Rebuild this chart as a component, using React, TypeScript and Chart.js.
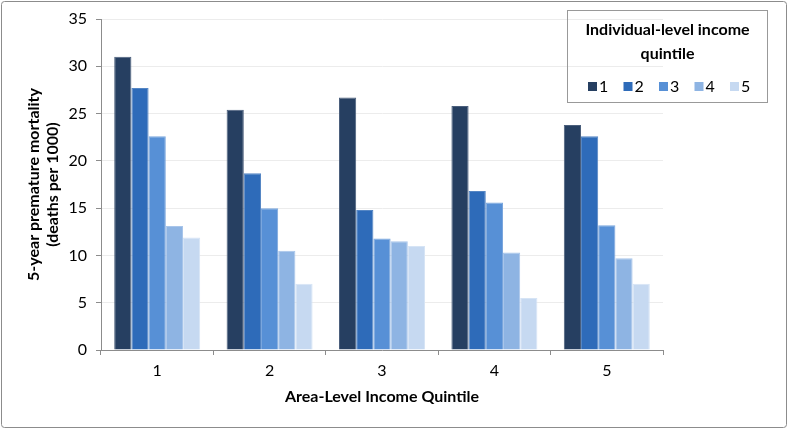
import React, { useEffect, useRef } from "react";
import { Chart, registerables } from "chart.js";

Chart.register(...registerables);

const categories = ["1", "2", "3", "4", "5"];
const seriesLabels = ["1", "2", "3", "4", "5"];
const q1 = [31.0, 25.4, 26.7, 25.8, 23.8];
const q2 = [27.7, 18.7, 14.8, 16.8, 22.6];
const q3 = [22.6, 15.0, 11.8, 15.6, 13.2];
const q4 = [13.1, 10.5, 11.5, 10.3, 9.7];
const q5 = [11.9, 7.0, 11.0, 5.5, 7.0];
const seriesValues = [q1, q2, q3, q4, q5];
const colors = ["#263f61", "#2e6bb9", "#5790d6", "#8eb4e3", "#c6d9f1"];
const borderColors = ["#4b5f7c", "#5586c4", "#7aa6dd", "#a8c5ea", "#d6e4f5"];
const yTicks = [0, 5, 10, 15, 20, 25, 30, 35];
const legendTitle = ["Individual-level income", "quintile"];
const yTitle = ["5-year premature mortality", "(deaths per 1000)"];
const xTitle = "Area-Level Income Quintile";

const FONT = "Lato, 'Open Sans', sans-serif";

const decorPlugin = {
  id: "decor",
  beforeDraw(chart: any) {
    const ctx = chart.ctx;
    ctx.save();
    ctx.fillStyle = "#ffffff";
    ctx.fillRect(0, 0, chart.width, chart.height);
    ctx.restore();
  },
  afterDraw(chart: any) {
    const ctx = chart.ctx;
    const area = chart.chartArea;
    ctx.save();
    // outer border
    ctx.strokeStyle = "#8c8c8c";
    ctx.lineWidth = 1;
    ctx.beginPath();
    (ctx as any).roundRect(1.5, 1.5, chart.width - 3, chart.height - 3, 3);
    ctx.stroke();

    // y title
    ctx.fillStyle = "#000000";
    ctx.font = `bold 16px ${FONT}`;
    ctx.textAlign = "center";
    ctx.textBaseline = "middle";
    const cy = (area.top + area.bottom) / 2;
    ctx.save();
    ctx.translate(34, cy);
    ctx.rotate(-Math.PI / 2);
    ctx.fillText(yTitle[0], 0, 0);
    ctx.restore();
    ctx.save();
    ctx.translate(53, cy);
    ctx.rotate(-Math.PI / 2);
    ctx.fillText(yTitle[1], 0, 0);
    ctx.restore();

    // x title
    ctx.fillText(xTitle, (area.left + area.right) / 2, 397);

    // legend box
    const bx = 567.5, by = 10.5, bw = 200, bh = 92;
    ctx.strokeStyle = "#999999";
    ctx.strokeRect(bx, by, bw, bh);
    ctx.font = `bold 16px ${FONT}`;
    const lcx = bx + bw / 2;
    ctx.fillText(legendTitle[0], lcx, 30);
    ctx.fillText(legendTitle[1], lcx, 54);
    ctx.font = `16px ${FONT}`;
    ctx.textAlign = "left";
    chart.data.datasets.forEach((ds: any, i: number) => {
      const x = 588 + i * 35.5;
      ctx.fillStyle = ds.backgroundColor;
      ctx.fillRect(x, 82, 9, 9);
      ctx.fillStyle = "#000000";
      ctx.fillText(ds.label, x + 11, 87);
    });
    ctx.restore();
  },
};

export default function App() {
  const ref = useRef<HTMLCanvasElement>(null);
  useEffect(() => {
    document.body.style.margin = "0";
    const chart = new Chart(ref.current!, {
      type: "bar",
      data: {
        labels: categories,
        datasets: seriesValues.map((vals, i) => ({
          label: seriesLabels[i],
          data: vals,
          backgroundColor: colors[i],
          borderColor: borderColors[i],
          borderWidth: 1,
          categoryPercentage: 0.765,
          barPercentage: 1,
        })),
      },
      options: {
        animation: false,
        responsive: false,
        devicePixelRatio: 1,
        layout: { padding: { left: 0, right: 125, top: 19, bottom: 0 } },
        plugins: {
          legend: { display: false },
          tooltip: { enabled: false },
          title: { display: false },
        },
        scales: {
          x: {
            grid: {
              display: true,
              drawOnChartArea: false,
              drawTicks: true,
              tickLength: 5,
              tickColor: "#8c8c8c",
              offset: true,
            },
            border: { color: "#8c8c8c", width: 1 },
            ticks: { color: "#000", font: { family: FONT, size: 16 }, padding: 6 },
            afterFit(scale: any) {
              scale.height = 79;
            },
          },
          y: {
            min: 0,
            max: 35,
            afterBuildTicks(scale: any) {
              scale.ticks = yTicks.map((v) => ({ value: v }));
            },
            grid: {
              color: "#ececec",
              tickColor: "#8c8c8c",
              tickLength: 5,
              drawTicks: true,
            },
            border: { color: "#8c8c8c", width: 1 },
            ticks: { color: "#000", font: { family: FONT, size: 16 }, padding: 9 },
            afterFit(scale: any) {
              scale.width = 101;
            },
          },
        },
      },
      plugins: [decorPlugin],
    });
    return () => chart.destroy();
  }, []);
  return (
    <div style={{ width: 788, height: 429 }}>
      <canvas ref={ref} width={788} height={429} style={{ display: "block" }} />
    </div>
  );
}
